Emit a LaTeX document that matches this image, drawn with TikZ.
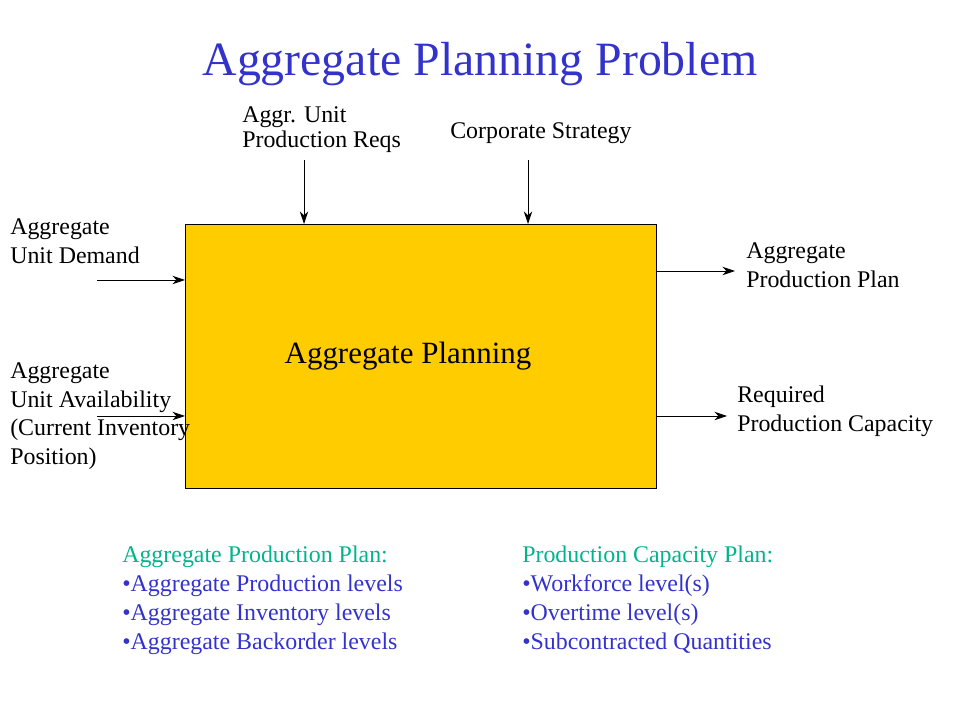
\documentclass[tikz,border=0pt]{standalone}
\usepackage{fontspec}
\setmainfont{Liberation Serif}
\usetikzlibrary{arrows.meta}
\definecolor{titleblue}{RGB}{51,51,204}
\definecolor{boxyellow}{RGB}{255,204,0}
\definecolor{headgreen}{RGB}{0,180,140}
\tikzset{
  lbl/.style={anchor=north west, inner sep=0pt, align=left, font=\fontsize{17}{20.6}\selectfont},
  flow/.style={-{Stealth[length=9pt,width=6pt]}, line width=0.6pt}
}
\begin{document}
\begin{tikzpicture}[x=0.025cm, y=-0.025cm]
\useasboundingbox (0,0) rectangle (960,720);

% title
\node (title) at (480,64) {\color{titleblue}\fontsize{34}{40}\selectfont Aggregate Planning Problem};

% main box
\node[draw, fill=boxyellow, line width=0.6pt, minimum width=471*0.025cm, minimum height=264*0.025cm, anchor=north west, inner sep=0pt] (plan) at (185,224) {};
\node[font=\fontsize{22}{26}\selectfont] (planlbl) at (408,356) {Aggregate Planning};

% inputs on top
\node[lbl, font=\fontsize{17}{17.8}\selectfont] (reqs) at (242,106) {Aggr. Unit\\Production Reqs};
\node[lbl] (strategy) at (450,122) {Corporate Strategy};
\coordinate (reqsin) at (304,160);
\coordinate (stratin) at (528,160);
\draw[flow] (reqsin) -- (304,224);
\draw[flow] (stratin) -- (528,224);

% inputs on the left
\node[lbl] (demand) at (10,218) {Aggregate\\Unit Demand};
\node[lbl] (avail) at (10,362) {Aggregate\\Unit Availability\\(Current Inventory\\Position)};
\coordinate (demandin) at (97,280);
\coordinate (availin) at (97,416);
\draw[flow] (demandin) -- (185,280);
\draw[flow] (availin) -- (185,416);

% outputs on the right
\node[lbl] (prodplan) at (746,242) {Aggregate\\Production Plan};
\node[lbl] (capacity) at (737,386) {Required\\Production Capacity};
\coordinate (prodout) at (735,271);
\coordinate (capout) at (727,416);
\draw[flow] (656,271) -- (prodout);
\draw[flow] (656,416) -- (capout);

% notes below
\node[lbl, text=titleblue] (planlist) at (122,546) {\textcolor{headgreen}{Aggregate Production Plan:}\\
  •Aggregate Production levels\\•Aggregate Inventory levels\\•Aggregate Backorder levels};
\node[lbl, text=titleblue] (caplist) at (522,546) {\textcolor{headgreen}{Production Capacity Plan:}\\
  •Workforce level(s)\\•Overtime level(s)\\•Subcontracted Quantities};
\end{tikzpicture}
\end{document}
